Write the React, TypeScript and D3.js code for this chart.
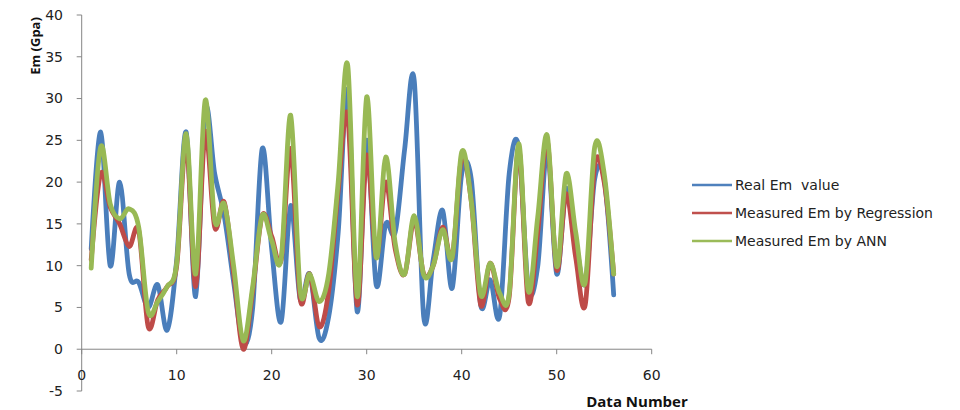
import React from "react"
import * as d3 from "d3"

const realEm = [12, 26, 10, 20, 9, 8, 5, 7.7, 2.3, 10.7, 26, 6.3, 28.6, 21, 16, 8, 0.7, 5, 24, 12,
    3.3, 17.2, 6, 9, 1.3, 3.9, 14, 31, 4.5, 25, 7.7, 15, 14, 24, 32.2, 3.9, 10.7, 16.6, 7.3, 21,
    20.4, 5.3, 8.3, 4, 21, 24.2, 7.5, 9.9, 23.8, 9, 19.2, 13, 7.9, 20.4, 20.4, 6.5]
const regressionEm = [10.7, 21, 17, 15, 12.3, 14.2, 2.7, 5.9, 7.5, 10, 24.6, 7.5, 26, 14.6, 17.6, 9, 0, 7, 16, 13.5,
    10.7, 24, 6, 9, 2.7, 7, 19, 28, 5.3, 23.2, 11, 20, 12, 9, 15.5, 9, 10, 14.6, 11, 23,
    17.8, 5.3, 10.3, 6, 6.3, 24, 5.7, 14, 25, 9.5, 18.6, 11, 5.3, 22, 20, 9]
const annEm = [9.7, 24.2, 17.4, 15.6, 16.8, 14.6, 4.5, 5.7, 7.5, 10.3, 25.8, 9, 29.8, 15.4, 17.4, 9.9, 1, 7.5, 16, 13,
    10.9, 28, 7, 9, 5.7, 9, 20, 34, 6.3, 30.2, 11, 23, 12.7, 9, 16, 8.9, 10, 14.3, 11, 23.6,
    17.8, 6.5, 10.3, 6.7, 6.7, 24.6, 7, 15.8, 25.6, 9.9, 21, 14, 8, 24.2, 21, 9]

const seriesNames = ["Real Em  value", "Measured Em by Regression", "Measured Em by ANN"]
const xTicks = [0, 10, 20, 30, 40, 50, 60]
const yTicks = [-5, 0, 5, 10, 15, 20, 25, 30, 35, 40]

const colors = ["#4a7ebb", "#be4b48", "#98b954"]
const legendColors = ["#4f81bd", "#c0504d", "#9bbb59"]

export default function App() {
    const width = 960
    const height = 410

    const x = d3.scaleLinear().domain([0, 60]).range([81.7, 651.7])
    const y = d3.scaleLinear().domain([-5, 40]).range([391, 15])

    // excel style smoothed line
    const line = d3.line<number>()
        .x((d, i) => x(i + 1))
        .y(d => y(d))
        .curve(d3.curveCatmullRom.alpha(0))

    const allSeries = [realEm, regressionEm, annEm]
    const axisColor = "#868686"
    const font = "'DejaVu Sans', Verdana, sans-serif"

    return (
        <svg width={width} height={height} style={{ position: "absolute", left: 0, top: 0, background: "#fff" }}>
            {/* y axis */}
            <line x1={x(0)} x2={x(0)} y1={y(-5)} y2={y(40)} stroke={axisColor} strokeWidth={1} />
            {yTicks.map(t => (
                <g key={t}>
                    <line x1={x(0) - 5} x2={x(0)} y1={y(t)} y2={y(t)} stroke={axisColor} />
                    <text x={63} y={y(t)} dy="0.35em" textAnchor="end" fontFamily={font} fontSize={14} fill="#222">{t}</text>
                </g>
            ))}
            {/* x axis at zero */}
            <line x1={x(0)} x2={x(60)} y1={y(0)} y2={y(0)} stroke={axisColor} />
            {xTicks.map(t => (
                <g key={t}>
                    <line x1={x(t)} x2={x(t)} y1={y(0)} y2={y(0) + 5} stroke={axisColor} />
                    <text x={x(t)} y={375} dy="0.35em" textAnchor="middle" fontFamily={font} fontSize={14} fill="#222">{t}</text>
                </g>
            ))}

            {/* series */}
            {allSeries.map((s, i) => (
                <path key={i} d={line(s) || ""} fill="none" stroke={colors[i]} strokeWidth={4.8}
                    strokeLinejoin="round" strokeLinecap="round" />
            ))}

            {/* axis titles */}
            <text transform={`translate(40,46) rotate(-90)`} textAnchor="middle" fontFamily="'Open Sans', sans-serif"
                fontWeight="bold" fontSize={13} fill="#111">Em (Gpa)</text>
            <text x={637} y={402} dy="0.35em" textAnchor="middle" fontFamily="'Open Sans', sans-serif"
                fontWeight="bold" fontSize={15} fill="#111">Data Number</text>

            {/* legend */}
            {seriesNames.map((name, i) => (
                <g key={name} transform={`translate(692,${185 + i * 28})`}>
                    <line x1={0} x2={40} y1={0} y2={0} stroke={legendColors[i]} strokeWidth={2.5} />
                    <text x={43} y={0} dy="0.35em" fontFamily={font} fontSize={14} fill="#222" style={{ whiteSpace: "pre" }}>{name}</text>
                </g>
            ))}
        </svg>
    )
}
